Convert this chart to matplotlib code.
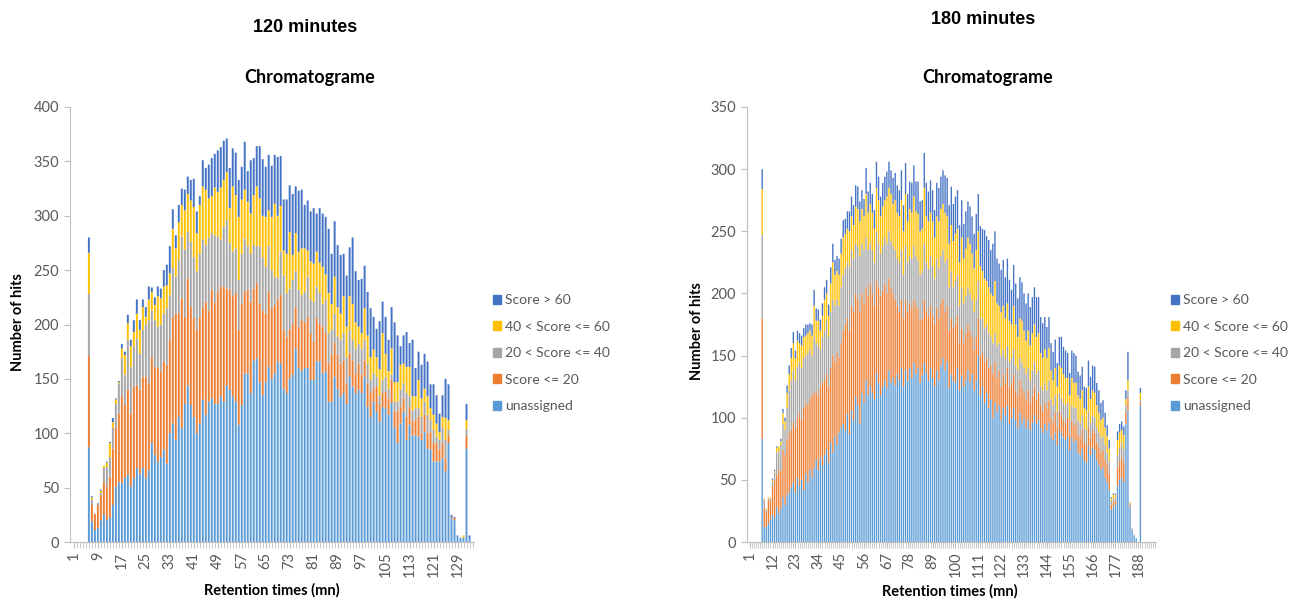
import numpy as np
import matplotlib
matplotlib.use("Agg")
import matplotlib.pyplot as plt
from matplotlib.patches import Patch

plt.rcParams['font.family'] = ['Lato', 'DejaVu Sans']

series_names = ["unassigned", "Score <= 20", "20 < Score <= 40",
                "40 < Score <= 60", "Score > 60"]
series_colors = ["#5B9BD5", "#ED7D31", "#A5A5A5", "#FFC000", "#4472C4"]

# ---- 120 minutes: top edge of each stacked layer, categories 1..134 ----
u120 = [0] * 5 + [
    87, 19, 11, 13, 20, 25, 20, 23, 34, 51,
    55, 54, 59, 62, 51, 59, 68, 63, 68, 59,
    66, 91, 80, 74, 78, 85, 72, 100, 109, 94,
    115, 105, 127, 144, 126, 115, 100, 109, 131, 117,
    129, 132, 127, 127, 134, 129, 144, 140, 134, 129,
    108, 126, 155, 155, 137, 167, 169, 147, 135, 147,
    161, 150, 155, 166, 164, 141, 137, 150, 154, 178,
    160, 157, 160, 160, 149, 149, 166, 166, 155, 157,
    129, 129, 152, 141, 134, 137, 127, 152, 143, 137,
    140, 137, 152, 124, 115, 129, 120, 111, 124, 123,
    117, 128, 105, 91, 109, 120, 94, 108, 98, 98,
    97, 94, 101, 86, 85, 74, 74, 74, 77, 65,
    91, 22, 20, 5, 4, 4, 86, 3, 0]
o120 = [0] * 5 + [
    171, 34, 26, 34, 43, 55, 51, 60, 86, 105,
    118, 134, 126, 140, 118, 143, 144, 140, 152, 152,
    146, 170, 161, 160, 157, 166, 163, 186, 207, 210,
    210, 224, 207, 242, 216, 206, 195, 206, 216, 221,
    213, 232, 220, 230, 235, 235, 233, 232, 226, 229,
    195, 219, 230, 232, 221, 233, 238, 219, 213, 210,
    230, 215, 218, 223, 227, 195, 189, 196, 201, 216,
    198, 204, 202, 207, 192, 184, 206, 201, 198, 192,
    164, 172, 183, 172, 164, 167, 146, 174, 167, 155,
    164, 154, 167, 146, 137, 141, 143, 126, 137, 138,
    132, 149, 121, 120, 124, 132, 115, 124, 111, 112,
    115, 100, 117, 100, 101, 91, 91, 85, 91, 77,
    98, 23, 22, 5, 4, 4, 98, 3, 0]
g120 = [0] * 5 + [
    228, 39, 26, 36, 45, 68, 69, 78, 105, 127,
    146, 169, 154, 186, 161, 180, 187, 173, 195, 200,
    204, 213, 204, 198, 200, 210, 215, 227, 252, 244,
    259, 281, 269, 285, 276, 262, 249, 265, 278, 273,
    280, 284, 282, 281, 278, 290, 296, 275, 267, 270,
    241, 265, 279, 272, 265, 273, 272, 272, 262, 253,
    272, 250, 244, 243, 267, 245, 229, 233, 241, 249,
    232, 227, 230, 244, 223, 221, 235, 229, 219, 223,
    192, 195, 210, 189, 186, 192, 170, 195, 186, 178,
    182, 178, 186, 164, 149, 155, 152, 135, 149, 152,
    141, 154, 129, 129, 140, 146, 137, 134, 121, 123,
    123, 115, 129, 117, 112, 103, 97, 94, 105, 94,
    103, 23, 22, 5, 4, 4, 104, 3, 0]
y120 = [0] * 5 + [
    266, 41, 26, 36, 47, 70, 73, 91, 110, 131,
    147, 178, 172, 201, 180, 193, 210, 195, 216, 207,
    223, 230, 218, 226, 224, 235, 236, 247, 288, 270,
    294, 310, 305, 320, 314, 308, 284, 310, 327, 324,
    316, 318, 326, 322, 326, 333, 340, 307, 327, 319,
    299, 315, 324, 313, 302, 319, 327, 316, 300, 299,
    305, 299, 311, 300, 309, 268, 265, 285, 264, 284,
    267, 270, 270, 268, 258, 256, 267, 257, 253, 246,
    229, 219, 244, 216, 210, 226, 198, 226, 219, 202,
    198, 192, 215, 190, 170, 177, 170, 159, 192, 173,
    157, 178, 147, 147, 163, 164, 161, 161, 134, 134,
    149, 132, 141, 134, 123, 117, 109, 101, 115, 114,
    112, 23, 22, 5, 4, 6, 112, 3, 0]
t120 = [0] * 5 + [
    280, 42, 26, 36, 48, 70, 74, 92, 114, 132,
    148, 182, 175, 209, 186, 204, 223, 204, 223, 216,
    235, 234, 225, 235, 233, 250, 255, 272, 306, 282,
    310, 325, 324, 336, 333, 334, 304, 318, 351, 344,
    347, 353, 357, 360, 363, 369, 371, 344, 362, 358,
    333, 345, 368, 341, 351, 353, 364, 364, 352, 345,
    356, 346, 356, 354, 355, 315, 315, 328, 320, 327,
    323, 324, 310, 314, 304, 307, 302, 307, 302, 299,
    288, 265, 295, 273, 264, 265, 245, 271, 280, 249,
    241, 242, 254, 230, 215, 207, 196, 203, 221, 207,
    186, 216, 202, 190, 180, 190, 193, 183, 186, 160,
    175, 163, 173, 166, 145, 145, 135, 118, 135, 150,
    145, 25, 23, 6, 4, 6, 127, 6, 0]

# ---- 180 minutes: top edge of each stacked layer, categories 1..196 ----
u180 = [0] * 6 + [
    83, 12, 12, 15, 18, 22, 20, 28, 23, 27,
    36, 30, 38, 40, 44, 48, 40, 52, 45, 50,
    42, 55, 48, 58, 52, 60, 66, 58, 68, 62,
    70, 74, 64, 80, 72, 85, 78, 88, 92, 95,
    90, 103, 87, 106, 98, 117, 110, 95, 120, 112,
    130, 118, 125, 120, 115, 136, 128, 118, 125, 130,
    124, 138, 128, 132, 126, 135, 130, 140, 125, 138,
    130, 140, 132, 144, 135, 140, 128, 134, 144, 136,
    130, 140, 132, 125, 138, 130, 142, 148, 138, 145,
    124, 135, 130, 128, 140, 122, 134, 125, 130, 138,
    128, 135, 122, 130, 150, 118, 125, 112, 120, 108,
    115, 100, 112, 105, 110, 98, 108, 102, 110, 95,
    100, 108, 98, 92, 104, 96, 100, 92, 98, 90,
    96, 102, 95, 98, 92, 88, 95, 90, 96, 85,
    82, 88, 78, 90, 88, 84, 82, 85, 74, 84,
    80, 82, 72, 70, 75, 66, 64, 78, 70, 76,
    74, 66, 62, 58, 60, 52, 48, 42, 26, 28,
    30, 45, 50, 52, 48, 95, 106, 28, 10, 5,
    3, 0, 110] + [0] * 7
o180 = [0] * 6 + [
    180, 27, 24, 34, 33, 45, 50, 54, 58, 57,
    74, 70, 82, 88, 90, 96, 92, 100, 104, 98,
    108, 112, 110, 115, 118, 120, 122, 118, 125, 128,
    130, 135, 125, 140, 150, 145, 152, 148, 160, 170,
    175, 180, 170, 190, 185, 200, 195, 185, 200, 192,
    205, 198, 208, 200, 190, 210, 205, 198, 202, 208,
    200, 212, 205, 200, 195, 190, 185, 195, 180, 195,
    185, 192, 188, 195, 190, 188, 178, 180, 195, 186,
    182, 190, 182, 175, 188, 180, 192, 196, 185, 190,
    170, 180, 172, 176, 182, 160, 172, 160, 168, 175,
    170, 165, 155, 165, 180, 150, 152, 145, 148, 140,
    142, 135, 145, 132, 138, 125, 135, 128, 140, 125,
    128, 135, 122, 118, 130, 124, 120, 115, 122, 112,
    118, 125, 115, 120, 110, 105, 112, 108, 114, 100,
    96, 104, 92, 105, 102, 98, 96, 100, 86, 98,
    94, 96, 86, 84, 90, 80, 78, 92, 84, 90,
    88, 80, 76, 72, 74, 66, 62, 55, 30, 32,
    33, 60, 65, 68, 64, 105, 116, 30, 10, 5,
    3, 0, 112] + [0] * 7
g180 = [0] * 6 + [
    247, 34, 26, 35, 35, 49, 56, 72, 73, 78,
    95, 90, 108, 122, 130, 138, 130, 141, 145, 140,
    148, 150, 152, 155, 150, 165, 160, 158, 155, 165,
    170, 178, 165, 185, 195, 190, 195, 190, 205, 215,
    220, 225, 222, 235, 228, 240, 238, 230, 240, 235,
    245, 235, 240, 235, 225, 250, 240, 232, 238, 245,
    240, 250, 242, 238, 235, 228, 225, 235, 215, 238,
    225, 230, 228, 238, 230, 226, 215, 218, 240, 225,
    220, 230, 222, 212, 228, 220, 230, 235, 225, 228,
    205, 218, 205, 210, 215, 190, 205, 192, 198, 205,
    200, 195, 185, 195, 210, 180, 180, 172, 175, 168,
    165, 160, 168, 158, 160, 150, 155, 148, 158, 145,
    148, 155, 142, 138, 148, 144, 140, 135, 140, 130,
    138, 145, 135, 138, 125, 122, 128, 122, 130, 115,
    110, 118, 105, 120, 116, 112, 110, 112, 98, 110,
    108, 108, 98, 96, 102, 92, 90, 105, 96, 102,
    100, 92, 88, 84, 85, 78, 72, 65, 33, 35,
    36, 70, 76, 80, 75, 110, 122, 31, 11, 6,
    3, 0, 114] + [0] * 7
y180 = [0] * 6 + [
    284, 35, 27, 36, 36, 50, 57, 76, 77, 81,
    104, 97, 120, 135, 148, 160, 148, 162, 160, 158,
    165, 166, 168, 170, 166, 190, 178, 178, 170, 182,
    195, 200, 182, 208, 225, 215, 218, 215, 232, 245,
    248, 252, 250, 262, 255, 270, 268, 258, 268, 262,
    280, 265, 272, 265, 252, 285, 275, 262, 270, 275,
    278, 285, 280, 272, 275, 265, 262, 275, 250, 280,
    258, 268, 265, 278, 266, 264, 250, 252, 285, 262,
    258, 265, 258, 245, 262, 258, 268, 272, 265, 262,
    240, 255, 242, 248, 252, 225, 245, 228, 236, 245,
    240, 232, 220, 235, 250, 222, 218, 212, 210, 205,
    200, 198, 210, 192, 190, 185, 190, 180, 192, 178,
    175, 190, 175, 165, 180, 178, 170, 162, 170, 158,
    168, 175, 165, 168, 152, 148, 155, 148, 156, 138,
    130, 140, 125, 142, 140, 135, 132, 132, 118, 132,
    128, 128, 118, 115, 122, 108, 106, 125, 115, 122,
    120, 110, 104, 98, 100, 92, 85, 75, 35, 38,
    38, 82, 88, 90, 86, 115, 130, 32, 11, 6,
    3, 0, 120] + [0] * 7
t180 = [0] * 6 + [
    300, 35, 27, 36, 36, 51, 58, 77, 77, 83,
    107, 100, 126, 142, 156, 169, 154, 170, 168, 166,
    172, 175, 175, 176, 175, 203, 188, 187, 179, 192,
    205, 211, 191, 221, 240, 227, 230, 228, 244, 259,
    260, 266, 266, 278, 271, 287, 286, 274, 283, 276,
    301, 282, 289, 280, 267, 306, 294, 278, 289, 294,
    298, 306, 299, 293, 297, 287, 283, 299, 271, 305,
    280, 290, 289, 303, 290, 290, 274, 275, 313, 289,
    282, 291, 283, 267, 289, 285, 294, 299, 295, 293,
    271, 286, 272, 278, 283, 255, 275, 256, 266, 274,
    270, 262, 248, 264, 280, 254, 252, 251, 246, 243,
    235, 240, 250, 228, 224, 219, 227, 213, 228, 211,
    203, 223, 208, 196, 213, 209, 200, 192, 200, 189,
    197, 205, 197, 197, 181, 176, 181, 173, 181, 160,
    153, 163, 144, 165, 165, 157, 154, 152, 136, 154,
    152, 150, 137, 134, 141, 125, 124, 146, 133, 142,
    141, 128, 122, 112, 114, 104, 94, 82, 36, 39,
    39, 89, 95, 97, 93, 122, 153, 32, 11, 6,
    3, 0, 124] + [0] * 7

ticks_120 = list(range(1, 134, 8))
ticks_180 = list(range(1, 197, 11))

grey = "#BFBFBF"
label_grey = "#595959"


def draw_panel(ax, tops, ticks, ymax, ystep, legend_x):
    n = len(tops[0])
    x = np.arange(1, n + 1)
    bottom = np.zeros(n)
    for top, col in zip(tops, series_colors):
        h = np.clip(np.array(top, dtype=float) - bottom, 0, None)
        bars = ax.bar(x, h, bottom=bottom, width=0.65, color=col, linewidth=0)
        for b in bars:
            b.set_snap(False)
        bottom = bottom + h

    ax.set_xlim(-0.3, n + 0.5)
    ax.set_ylim(0, ymax)
    ax.set_yticks(np.arange(0, ymax + 1, ystep))
    ax.set_xticks(ticks)
    ax.set_xticklabels([str(t) for t in ticks], rotation=90, fontsize=10.5)
    ax.set_xticks(x, minor=True)
    ax.tick_params(axis='y', labelsize=10.5, length=4, color=grey, pad=4,
                   labelcolor=label_grey)
    ax.tick_params(axis='x', which='both', length=4, color=grey, pad=3,
                   labelcolor=label_grey)
    for s in ['top', 'right']:
        ax.spines[s].set_visible(False)
    for s in ['left', 'bottom']:
        ax.spines[s].set_color(grey)
        ax.spines[s].set_linewidth(0.8)

    handles = [Patch(color=c, label=l) for c, l in zip(series_colors, series_names)]
    ax.legend(handles=handles[::-1], loc='center left', bbox_to_anchor=(legend_x, 0.434),
              frameon=False, handlelength=0.6, handleheight=0.6,
              handletextpad=0.3, labelspacing=1.05, fontsize=10,
              labelcolor=label_grey)


fig = plt.figure(figsize=(12.95, 6.01), dpi=100)
W, H = 1295, 601

ax1 = fig.add_axes([70 / W, 59 / H, 404 / W, 435 / H])
draw_panel(ax1, [u120, o120, g120, y120, t120], ticks_120, 400, 50, 1.015)

ax2 = fig.add_axes([747 / W, 59 / H, 409 / W, 435 / H])
draw_panel(ax2, [u180, o180, g180, y180, t180], ticks_180, 350, 50, 1.005)

narrow = ['Liberation Sans Narrow', 'Liberation Sans', 'DejaVu Sans']
fig.text(305 / W, 1 - 27 / H, "120 minutes", ha='center', va='center',
         fontsize=13, fontweight='bold', family=narrow)
fig.text(983 / W, 1 - 20 / H, "180 minutes", ha='center', va='center',
         fontsize=13, fontweight='bold', family=narrow)
fig.text(310 / W, 1 - 77 / H, "Chromatograme", ha='center', va='center',
         fontsize=13, fontweight='bold')
fig.text(988 / W, 1 - 77 / H, "Chromatograme", ha='center', va='center',
         fontsize=13, fontweight='bold')

fig.text(18 / W, 1 - 322 / H, "Number of hits", rotation=90, ha='center',
         va='center', fontsize=10.5, fontweight='bold')
fig.text(697 / W, 1 - 331 / H, "Number of hits", rotation=90, ha='center',
         va='center', fontsize=10.5, fontweight='bold')
fig.text(272 / W, 1 - 590 / H, "Retention times (mn)", ha='center',
         va='center', fontsize=10.5, fontweight='bold')
fig.text(950 / W, 1 - 591 / H, "Retention times (mn)", ha='center',
         va='center', fontsize=10.5, fontweight='bold')

fig.savefig("out.png", dpi=100, facecolor='white')
